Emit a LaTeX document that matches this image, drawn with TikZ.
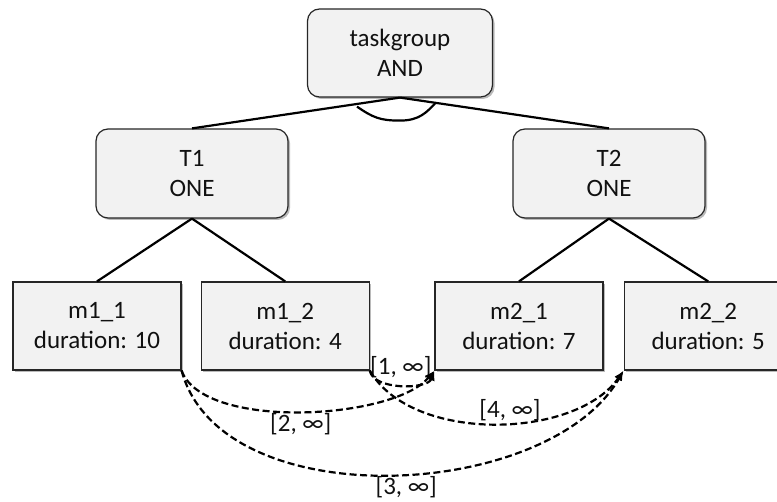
\documentclass[tikz,border=0pt]{standalone}
\usepackage{fontspec}
\setmainfont{Carlito}
\usetikzlibrary{arrows.meta,positioning,shadows}
\definecolor{boxfill}{HTML}{F2F2F2}
\definecolor{boxstroke}{HTML}{262626}
\definecolor{txt}{HTML}{111111}

\begin{document}
\begin{tikzpicture}[
  x=1pt, y=1pt,
  font=\fontsize{25}{30}\selectfont,
  group/.style={
    draw=boxstroke,
    line width=1.2pt,
    rounded corners=12pt,
    fill=boxfill,
    minimum width=192pt,
    minimum height=89pt,
    align=center,
    text=txt,
    drop shadow={shadow xshift=2pt, shadow yshift=-2pt, fill=black!45, opacity=0.6}
  },
  method/.style={
    draw=boxstroke,
    line width=1.2pt,
    fill=boxfill,
    minimum width=168pt,
    minimum height=88pt,
    align=center,
    text=txt,
    drop shadow={shadow xshift=2pt, shadow yshift=-2pt, fill=black!45, opacity=0.6}
  },
  edge/.style={line width=2.2pt, draw=black},
  order/.style={-{Latex[length=10pt,width=8pt]}, dash pattern=on 7pt off 3.5pt, line width=2.2pt},
  bound/.style={inner sep=1pt, text=txt}
]
  \useasboundingbox (0,0) rectangle (777,502);

  % Task group and its tasks
  \node[group, minimum width=185pt, minimum height=88pt] (tg) at (400,449) {taskgroup\\AND};
  \node[group] (t1) at (192,328.5) {T1\\ONE};
  \node[group] (t2) at (609,328.5) {T2\\ONE};

  % Methods
  \node[method] (m11) at (97,176) {m1\_1\\duration: 10};
  \node[method, right=19pt of m11] (m12) {m1\_2\\duration: 4};
  \node[method] (m21) at (519,176) {m2\_1\\duration: 7};
  \node[method, right=20pt of m21] (m22) {m2\_2\\duration: 5};

  % Tree edges
  \draw[edge] (tg.south) -- (t1.north);
  \draw[edge] (tg.south) -- (t2.north);
  \draw[edge] (t1.south) -- (m11.north);
  \draw[edge] (t1.south) -- (m12.north);
  \draw[edge] (t2.south) -- (m21.north);
  \draw[edge] (t2.south) -- (m22.north);

  % AND arc
  \draw[edge] ([xshift=-43pt,yshift=-9pt]tg.south) .. controls +(16,-11) and +(-20,0) .. ([yshift=-23pt]tg.south)
    .. controls +(20,0) and +(-8,-8) .. ([xshift=35pt,yshift=-6pt]tg.south);

  % Temporal constraints
  \draw[order] (m12.south east) to[out=-80, in=-110, looseness=0.8]
    node[bound, above=5pt] {[1, ∞]} (m21.south west);
  \draw[order] (m11.south east) to[out=-70, in=-130, looseness=0.65]
    node[bound, below] {[2, ∞]} (m21.south west);
  \draw[order] (m11.south east) to[out=-75, in=-120, looseness=0.88]
    node[bound, below, pos=0.53] {[3, ∞]} (m22.south west);
  \draw[order] (m12.south east) to[out=-60, in=-125, looseness=0.85]
    node[bound, above, pos=0.55] {[4, ∞]} (m22.south west);
\end{tikzpicture}
\end{document}
